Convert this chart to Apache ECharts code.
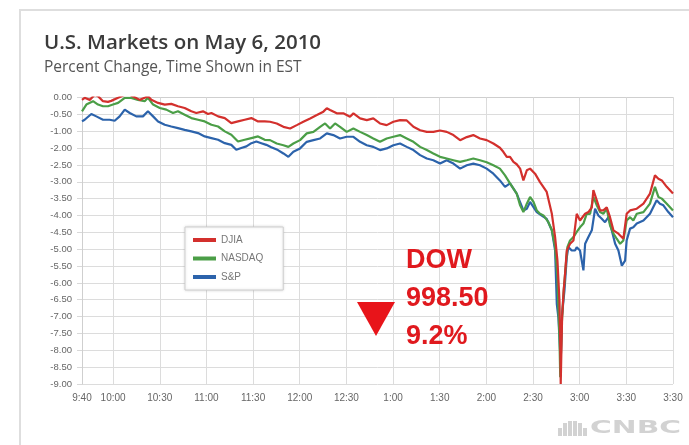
<!DOCTYPE html>
<html>
<head>
<meta charset="utf-8">
<script src="https://cdn.jsdelivr.net/npm/echarts@6/dist/echarts.min.js"></script>
<style>html,body{margin:0;padding:0;background:#fff;}#c{width:689px;height:445px;}</style>
</head>
<body>
<div id="c"></div>
<script>
// ---- data (time in minutes since midnight, values in percent change as labelled) ----
const xTickValues = [580, 600, 630, 660, 690, 720, 750, 780, 810, 840, 870, 900, 930, 960];
const xTickLabels = ['9:40', '10:00', '10:30', '11:00', '11:30', '12:00', '12:30', '1:00', '1:30', '2:00', '2:30', '3:00', '3:30', '3:30'];
const yTickLabels = ['0.00', '-0.50', '-1.00', '-2.00', '-2.50', '-3.00', '-3.50', '-4.00', '-4.50', '-5.00', '-5.50', '-6.00', '-6.50', '-7.00', '-7.50', '-8.00', '-8.50', '-9.00'];
const seriesNames = ['DJIA', 'NASDAQ', 'S&P'];

const djiaTime = [580, 581.7, 585, 588.2, 590.3, 593.5, 596.7, 598.8, 603.2, 607.5, 610.7, 613.9, 617.1, 620.3, 622.4, 624.6, 628.9, 633.2, 637.4, 641.7, 646, 650.3, 653.5, 657.8, 661, 663.2, 667.5, 671.8, 676, 680.3, 684.6, 688.9, 693.2, 697.5, 700.9, 705.2, 709.5, 713.8, 718.1, 722.3, 726.7, 731, 735.2, 737.4, 739.5, 743.8, 748, 752.3, 754.5, 758.8, 763.1, 767.3, 771.6, 775.9, 780.2, 784.5, 788.8, 793.1, 797.4, 801.7, 805.9, 810.2, 814.5, 818.8, 823.1, 827.4, 831.6, 835.9, 840.2, 844.5, 848.7, 850.9, 853.1, 855.2, 857.4, 859.5, 861.7, 863.8, 866, 868.1, 871.3, 874.5, 878.8, 882.1, 884.2, 885.7, 887, 887.4, 887.8, 888.7, 889.7, 890.6, 891.7, 893.8, 896, 898.1, 900.2, 903.5, 905.6, 907.8, 908.8, 911, 913.1, 915.2, 917.4, 919.5, 921.7, 924.9, 928.1, 930.2, 932.4, 936.7, 941, 945.2, 948.4, 950.6, 952.8, 956, 960];
const djiaPct = [-0.07, -0.01, -0.07, 0.08, 0.04, -0.11, -0.13, -0.10, -0.01, 0.08, 0.08, 0.01, -0.07, -0.01, 0.04, -0.07, -0.16, -0.21, -0.19, -0.26, -0.31, -0.41, -0.46, -0.41, -0.49, -0.46, -0.56, -0.61, -0.76, -0.71, -0.66, -0.61, -0.71, -0.71, -0.72, -0.77, -0.87, -0.92, -0.82, -0.72, -0.62, -0.52, -0.42, -0.32, -0.37, -0.47, -0.47, -0.57, -0.47, -0.62, -0.67, -0.62, -0.77, -0.82, -0.72, -0.67, -0.68, -0.87, -0.97, -1.04, -1.04, -0.98, -1.04, -1.23, -1.53, -1.35, -1.23, -1.43, -1.53, -1.73, -1.98, -2.11, -2.26, -2.26, -2.41, -2.48, -2.61, -2.96, -2.66, -2.61, -2.76, -3.01, -3.30, -3.95, -4.64, -5.34, -6.53, -7.51, -9.00, -7.02, -6.23, -5.73, -5.04, -4.84, -4.74, -3.95, -4.15, -3.95, -3.90, -3.76, -3.25, -3.55, -3.85, -3.85, -3.76, -4.05, -4.44, -4.54, -4.69, -3.95, -3.85, -3.80, -3.65, -3.35, -2.81, -2.91, -2.96, -3.15, -3.35];

const nasdaqTime = [580, 582.8, 587.1, 590.3, 593.5, 596.7, 599.9, 603.2, 607.5, 611.7, 616, 620.3, 622.4, 625.7, 630, 634.2, 638.5, 641.7, 646, 650.3, 654.6, 658.9, 663.2, 667.5, 671.8, 676, 680.3, 684.6, 688.9, 693.2, 697.5, 700.9, 705.2, 709.5, 712.7, 715.9, 720.2, 724.5, 728.8, 733.1, 736.3, 739.5, 742.7, 745.9, 750.2, 754.5, 758.8, 763.1, 767.3, 771.6, 775.9, 780.2, 784.5, 788.8, 793.1, 797.4, 801.7, 805.9, 810.2, 814.5, 818.8, 823.1, 827.4, 831.6, 835.9, 840.2, 844.5, 848.7, 852, 855.2, 859.5, 861.7, 863.8, 866, 868.1, 870.3, 872.4, 874.5, 876.7, 879.9, 882.1, 884.2, 885.7, 886.3, 887, 887.5, 888.5, 889.6, 891.3, 892.1, 893.8, 896, 898.1, 900.2, 902.4, 904.5, 906.7, 908.8, 911, 913.1, 915.2, 917.4, 919.5, 921.7, 923.8, 926, 928.1, 930.2, 932.4, 934.5, 936.7, 941, 945.2, 948.4, 950.6, 952.8, 956, 960];
const nasdaqPct = [-0.41, -0.21, -0.11, -0.21, -0.26, -0.26, -0.21, -0.16, -0.01, -0.01, -0.07, -0.11, -0.01, -0.21, -0.31, -0.36, -0.46, -0.41, -0.51, -0.61, -0.66, -0.71, -0.81, -0.86, -1.01, -1.21, -1.61, -1.51, -1.41, -1.31, -1.51, -1.53, -1.73, -1.83, -1.93, -1.73, -1.53, -1.13, -1.04, -0.87, -0.77, -0.92, -0.77, -0.87, -1.04, -0.92, -1.04, -1.23, -1.43, -1.63, -1.43, -1.33, -1.23, -1.43, -1.63, -1.93, -2.06, -2.16, -2.26, -2.31, -2.36, -2.41, -2.36, -2.31, -2.36, -2.42, -2.51, -2.61, -2.81, -3.05, -3.35, -3.70, -3.90, -3.65, -3.45, -3.60, -3.85, -3.95, -4.00, -4.20, -4.44, -4.94, -5.83, -6.72, -7.62, -8.80, -7.21, -6.32, -5.34, -4.94, -4.74, -4.64, -4.49, -4.35, -4.24, -3.95, -3.95, -3.45, -3.70, -3.90, -3.95, -3.80, -4.29, -4.54, -4.69, -4.84, -4.74, -4.15, -4.05, -4.15, -3.95, -3.90, -3.65, -3.15, -3.45, -3.50, -3.65, -3.85];

const spTime = [580, 581.7, 586, 589.2, 593.5, 597.8, 601, 604.2, 607.5, 610.7, 614.9, 619.2, 622.4, 625.7, 628.9, 633.2, 637.4, 641.7, 646, 650.3, 654.6, 658.9, 663.2, 667.5, 671.8, 676, 679.2, 682.4, 685.7, 688.9, 692.1, 695.3, 698.5, 701.7, 706, 709.5, 712.7, 715.9, 720.2, 724.5, 728.8, 733.1, 737.4, 741.6, 745.9, 750.2, 754.5, 758.8, 763.1, 767.3, 771.6, 775.9, 780.2, 784.5, 788.8, 793.1, 797.4, 801.7, 805.9, 810.2, 814.5, 818.8, 823.1, 827.4, 831.6, 835.9, 840.2, 844.5, 848.7, 852, 855.2, 859.5, 863.8, 866, 868.1, 870.3, 872.4, 875.6, 878.8, 882.1, 884.2, 885.3, 886.3, 887.4, 887.8, 888.5, 890.2, 891.7, 892.7, 894.9, 897, 898.1, 900.2, 902.4, 903.5, 905.6, 907.8, 909.9, 912, 914.2, 916.3, 918.5, 920.6, 922.8, 924.9, 927.1, 929.2, 930.2, 932.4, 934.5, 936.7, 941, 945.2, 949.5, 951.6, 953.8, 957, 960];
const spPct = [-0.71, -0.66, -0.49, -0.56, -0.66, -0.66, -0.69, -0.56, -0.36, -0.46, -0.56, -0.56, -0.41, -0.56, -0.71, -0.81, -0.86, -0.91, -0.96, -1.01, -1.11, -1.31, -1.41, -1.51, -1.71, -1.81, -2.05, -2.00, -1.90, -1.71, -1.61, -1.71, -1.81, -1.95, -2.06, -2.16, -2.26, -2.11, -2.01, -1.63, -1.53, -1.43, -1.13, -1.23, -1.43, -1.33, -1.33, -1.63, -1.83, -1.93, -2.06, -2.01, -1.83, -1.73, -1.93, -2.06, -2.21, -2.31, -2.36, -2.46, -2.36, -2.46, -2.61, -2.51, -2.46, -2.51, -2.61, -2.76, -2.96, -3.15, -3.05, -3.35, -3.85, -3.80, -3.60, -3.75, -3.90, -4.00, -4.10, -4.44, -5.04, -6.63, -7.02, -8.01, -8.41, -7.02, -6.23, -5.24, -4.94, -5.04, -5.04, -4.94, -5.04, -5.63, -4.84, -4.64, -4.44, -3.80, -4.00, -4.10, -4.20, -4.05, -4.44, -4.84, -5.04, -5.49, -5.34, -4.74, -4.39, -4.35, -4.24, -4.15, -3.95, -3.55, -3.65, -3.70, -3.90, -4.05];

// ---- the printed value axis skips "-1.50": map labelled percent to axis position ----
function toAxis(v) {
  if (v >= -1) return v;
  if (v >= -2) return -1 + (v + 1) / 2;
  return v + 0.5;
}
function pairs(t, v) { return t.map((m, i) => [m, toAxis(v[i])]); }

const colors = ['#d3302d', '#4b9e47', '#2c63ab'];
const chart = echarts.init(document.getElementById('c'), null, { renderer: 'canvas' });
const axisFont = 'Liberation Sans Narrow, Arial Narrow, Liberation Sans, sans-serif';
const annFont = 'bold 27px Liberation Sans, Arial, sans-serif';

chart.setOption({
  animation: false,
  backgroundColor: '#fff',
  title: {
    text: 'U.S. Markets on May 6, 2010',
    subtext: 'Percent Change, Time Shown in EST',
    left: 44, top: 33, padding: 0, itemGap: 6,
    textStyle: { fontFamily: 'Open Sans', fontSize: 20.5, fontWeight: 600, color: '#3b3b3b' },
    subtextStyle: { fontFamily: 'Open Sans', fontSize: 15.5, color: '#555' }
  },
  legend: {
    orient: 'vertical', left: 185, top: 227,
    data: seriesNames,
    icon: 'rect', itemWidth: 23, itemHeight: 4, itemGap: 6.5,
    padding: [7, 20, 7, 8],
    backgroundColor: '#fff', borderColor: '#cfcfcf', borderWidth: 1,
    shadowColor: 'rgba(0,0,0,0.15)', shadowBlur: 3,
    textStyle: { fontFamily: axisFont, fontSize: 10, color: '#777', lineHeight: 12 }
  },
  grid: { left: 82, right: 16, top: 97.5, bottom: 61 },
  xAxis: {
    type: 'value', min: 580, max: 960,
    axisLine: { show: true, lineStyle: { color: '#cfcfcf' } },
    axisTick: { show: true, length: 3, customValues: xTickValues, lineStyle: { color: '#d8d8d8' } },
    axisLabel: {
      customValues: xTickValues,
      formatter: v => xTickLabels[xTickValues.indexOf(v)],
      fontFamily: axisFont, fontSize: 10, color: '#666', margin: 9
    },
    splitLine: { show: true, lineStyle: { color: '#dcdcdc' } }
  },
  yAxis: {
    type: 'value', min: -8.5, max: 0, interval: 0.5,
    axisLine: { show: true, lineStyle: { color: '#cfcfcf' } },
    axisTick: { show: true, length: 5, lineStyle: { color: '#d8d8d8' } },
    axisLabel: {
      formatter: v => yTickLabels[Math.round(-v * 2)],
      fontFamily: axisFont, fontSize: 9.5, color: '#666', margin: 10
    },
    splitLine: { show: true, lineStyle: { color: '#dcdcdc' } }
  },
  series: [
    { name: seriesNames[0], type: 'line', data: pairs(djiaTime, djiaPct) },
    { name: seriesNames[1], type: 'line', data: pairs(nasdaqTime, nasdaqPct) },
    { name: seriesNames[2], type: 'line', data: pairs(spTime, spPct) }
  ].map((s, i) => Object.assign(s, {
    showSymbol: false, symbol: 'none', smooth: false, clip: true,
    color: colors[i],
    lineStyle: { width: 2.2, color: colors[i] },
    z: 3 - i
  })),
  graphic: [
    { type: 'rect', z: -10, silent: true, shape: { x: 20, y: 10, width: 700, height: 460 },
      style: { fill: 'none', stroke: '#dedede', lineWidth: 2 } },
    { type: 'polygon', z: 100, shape: { points: [[357, 302], [395, 302], [376, 336]] }, style: { fill: '#e8141a' } },
    { type: 'text', z: 100, x: 406, y: 247, style: { text: 'DOW', font: annFont, fill: '#e0191e' } },
    { type: 'text', z: 100, x: 406, y: 285, style: { text: '998.50', font: annFont, fill: '#e0191e' } },
    { type: 'text', z: 100, x: 406, y: 323, style: { text: '9.2%', font: annFont, fill: '#e0191e' } },
    { type: 'group', z: 100, x: 558, y: 419, children: [
      { type: 'rect', z: 100, shape: { x: 0, y: 9, width: 4, height: 8 }, style: { fill: '#d2d2d2' } },
      { type: 'rect', z: 100, shape: { x: 5, y: 4, width: 4, height: 13 }, style: { fill: '#d2d2d2' } },
      { type: 'rect', z: 100, shape: { x: 10, y: 2, width: 4, height: 15 }, style: { fill: '#d2d2d2' } },
      { type: 'rect', z: 100, shape: { x: 15, y: 2, width: 4, height: 15 }, style: { fill: '#d2d2d2' } },
      { type: 'rect', z: 100, shape: { x: 20, y: 4, width: 4, height: 13 }, style: { fill: '#d2d2d2' } },
      { type: 'rect', z: 100, shape: { x: 25, y: 9, width: 4, height: 8 }, style: { fill: '#d2d2d2' } }
    ] },
    { type: 'text', z: 100, x: 590, y: 419, scaleX: 1.65, originX: 0, originY: 0,
      style: { text: 'CNBC', font: 'bold 18px DejaVu Sans, sans-serif', fill: '#d2d2d2' } }
  ]
});
</script>
</body>
</html>
